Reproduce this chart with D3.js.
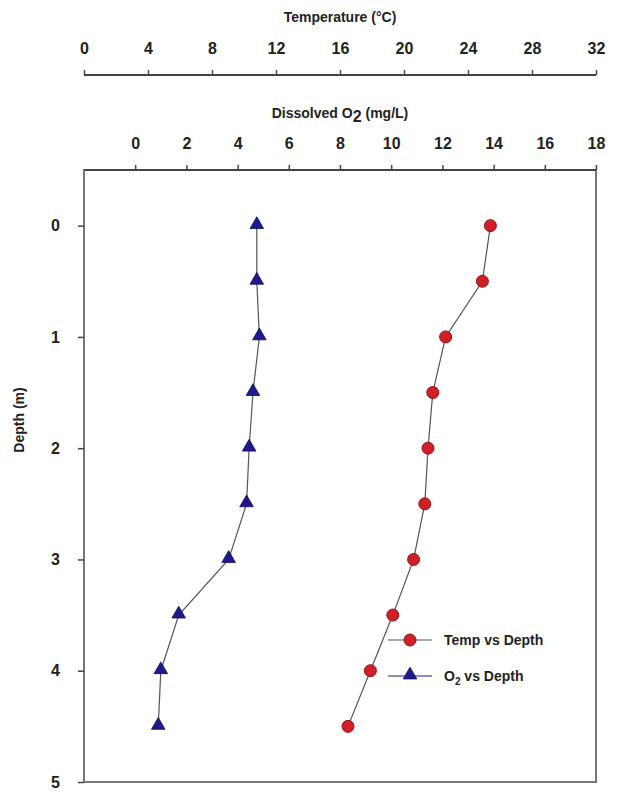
<!DOCTYPE html>
<html>
<head>
<meta charset="utf-8">
<script src="https://cdn.jsdelivr.net/npm/d3@7"></script>
<style>
  body { margin: 0; background: #fff; }
  text { font-family: "Liberation Sans", Arial, sans-serif; font-weight: bold; fill: #222; }
</style>
</head>
<body>
<svg id="chart" width="618" height="793"></svg>
<script>
  // readings off the profile
  var depth = [0, 0.5, 1, 1.5, 2, 2.5, 3, 3.5, 4, 4.5];
  var temp = [25.4, 24.9, 22.6, 21.8, 21.5, 21.3, 20.6, 19.3, 17.9, 16.5];
  var oxygen = [4.75, 4.75, 4.85, 4.6, 4.45, 4.35, 3.65, 1.7, 1.0, 0.9];
  var tempTicks = [0, 4, 8, 12, 16, 20, 24, 28, 32];
  var oxyTicks = [0, 2, 4, 6, 8, 10, 12, 14, 16, 18];
  var depthTicks = [0, 1, 2, 3, 4, 5];

  var plotL = 84, plotR = 596, plotT = 170, plotB = 782;
  var svg = d3.select("#chart");

  var xT = d3.scaleLinear().domain([0, 32]).range([plotL, plotR]);
  var xO = d3.scaleLinear().domain([-2, 18]).range([plotL, plotR]);
  var y = d3.scaleLinear().domain([-0.5, 5]).range([plotT, plotB]);

  // plot frame
  svg.append("rect")
    .attr("x", plotL).attr("y", plotT)
    .attr("width", plotR - plotL).attr("height", plotB - plotT)
    .attr("fill", "none").attr("stroke", "#777").attr("stroke-width", 2);

  // temperature axis on top
  var gT = svg.append("g").attr("transform", "translate(0,75)")
    .call(d3.axisTop(xT).tickValues(tempTicks).tickSize(5).tickPadding(16));
  // dissolved oxygen axis
  var gO = svg.append("g").attr("transform", "translate(0," + plotT + ")")
    .call(d3.axisTop(xO).tickValues(oxyTicks).tickSize(5).tickPadding(16));
  // depth axis
  var gY = svg.append("g").attr("transform", "translate(" + plotL + ",0)")
    .call(d3.axisLeft(y).tickValues(depthTicks).tickFormat(d3.format("d")).tickSize(6).tickPadding(18));

  [gT, gO, gY].forEach(function (g) {
    g.selectAll("text").attr("font-size", 16).attr("font-family", null).attr("fill", "#222");
    g.selectAll("line").attr("stroke", "#444").attr("stroke-width", 1.5);
    g.select(".domain").attr("stroke", "#444").attr("stroke-width", 2);
  });
  gT.select(".domain").attr("d", "M" + plotL + ",0H" + plotR);
  gO.select(".domain").attr("d", "M" + plotL + ",0H" + plotR);
  gY.select(".domain").attr("stroke", "#777").attr("d", "M0," + plotT + "V" + plotB);

  svg.append("text").attr("x", 340).attr("y", 22).attr("text-anchor", "middle")
    .attr("font-size", 14).text("Temperature (°C)");
  var t2 = svg.append("text").attr("x", 340).attr("y", 118).attr("text-anchor", "middle")
    .attr("font-size", 14);
  t2.append("tspan").text("Dissolved O");
  t2.append("tspan").attr("dy", 4).attr("font-size", 16).text("2");
  t2.append("tspan").attr("dy", -4).text(" (mg/L)");
  svg.append("text").attr("transform", "translate(24,420) rotate(-90)")
    .attr("text-anchor", "middle").attr("font-size", 14).text("Depth (m)");

  var tempPts = depth.map(function (d, i) { return [xT(temp[i]), y(d)]; });
  var oxyPts = depth.map(function (d, i) { return [xO(oxygen[i]), y(d)]; });
  var line = d3.line();

  svg.append("path").attr("d", line(tempPts)).attr("fill", "none")
    .attr("stroke", "#555").attr("stroke-width", 1.2);
  svg.append("path").attr("d", line(oxyPts)).attr("fill", "none")
    .attr("stroke", "#555").attr("stroke-width", 1.2);

  var tri = d3.symbol().type(d3.symbolTriangle).size(80);

  svg.selectAll("circle.temp").data(tempPts).join("circle")
    .attr("class", "temp")
    .attr("cx", function (d) { return d[0]; }).attr("cy", function (d) { return d[1]; })
    .attr("r", 6).attr("fill", "#d21f26").attr("stroke", "#8a1418").attr("stroke-width", 1);

  svg.selectAll("path.oxy").data(oxyPts).join("path")
    .attr("class", "oxy")
    .attr("d", tri)
    .attr("transform", function (d) { return "translate(" + d[0] + "," + (d[1] - 1) + ")"; })
    .attr("fill", "#1f1a8c").attr("stroke", "#100c5a").attr("stroke-width", 0.8);

  // legend
  var lg = svg.append("g");
  lg.append("line").attr("x1", 388).attr("x2", 432).attr("y1", 640).attr("y2", 640)
    .attr("stroke", "#555").attr("stroke-width", 1.2);
  lg.append("circle").attr("cx", 410).attr("cy", 640).attr("r", 6)
    .attr("fill", "#d21f26").attr("stroke", "#8a1418");
  lg.append("text").attr("x", 444).attr("y", 645).attr("font-size", 14).text("Temp vs Depth");
  lg.append("line").attr("x1", 388).attr("x2", 432).attr("y1", 676).attr("y2", 676)
    .attr("stroke", "#1f1a8c").attr("stroke-width", 1.2);
  lg.append("path").attr("d", tri).attr("transform", "translate(410,675)")
    .attr("fill", "#1f1a8c").attr("stroke", "#100c5a").attr("stroke-width", 0.8);
  var l2 = lg.append("text").attr("x", 444).attr("y", 681).attr("font-size", 14);
  l2.append("tspan").text("O");
  l2.append("tspan").attr("dy", 4).attr("font-size", 10).text("2");
  l2.append("tspan").attr("dy", -4).text(" vs Depth");
</script>
</body>
</html>
